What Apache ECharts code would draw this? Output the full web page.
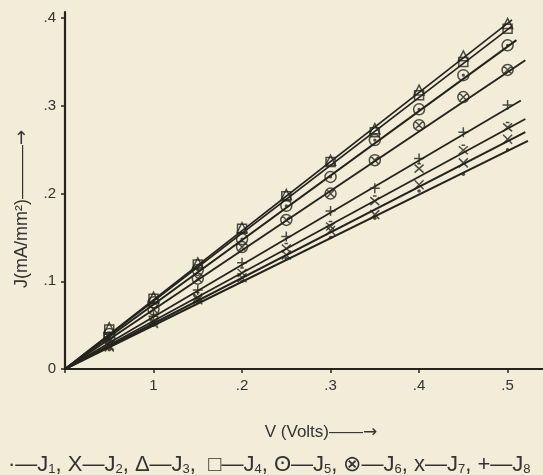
<!DOCTYPE html>
<html>
<head>
<meta charset="utf-8">
<script src="https://cdn.jsdelivr.net/npm/echarts@6/dist/echarts.min.js"></script>
<style>
html,body{margin:0;padding:0;background:#f3ecd8;}
#chart{width:543px;height:475px;}
</style>
</head>
<body>
<div id="chart"></div>
<script>
// ---- data ----
const voltages = [0.05, 0.10, 0.15, 0.20, 0.25, 0.30, 0.35, 0.40, 0.45, 0.50];
const seriesNames = ['J1', 'J2', 'J3', 'J4', 'J5', 'J6', 'J7', 'J8'];
const J1 = [0.022, 0.050, 0.076, 0.100, 0.126, 0.150, 0.172, 0.203, 0.222, 0.250];
const J2 = [0.025, 0.052, 0.079, 0.104, 0.130, 0.158, 0.176, 0.210, 0.235, 0.262];
const J3 = [0.047, 0.082, 0.121, 0.161, 0.199, 0.238, 0.274, 0.318, 0.357, 0.394];
const J4 = [0.045, 0.080, 0.119, 0.160, 0.197, 0.236, 0.270, 0.312, 0.350, 0.388];
const J5 = [0.040, 0.076, 0.113, 0.148, 0.186, 0.219, 0.261, 0.296, 0.335, 0.369];
const J6 = [0.036, 0.068, 0.103, 0.139, 0.170, 0.200, 0.238, 0.278, 0.310, 0.341];
const J7 = [0.027, 0.055, 0.082, 0.110, 0.138, 0.163, 0.192, 0.229, 0.250, 0.276];
const J8 = [0.032, 0.060, 0.090, 0.121, 0.151, 0.180, 0.206, 0.240, 0.270, 0.301];
// fitted straight lines drawn from the origin: [V end, J end]
const lineEnds = [
  [0.523, 0.260], [0.520, 0.270], [0.505, 0.398], [0.505, 0.391],
  [0.510, 0.375], [0.520, 0.352], [0.520, 0.285], [0.515, 0.306]
];
const xTickValues = [0, 0.1, 0.2, 0.3, 0.4, 0.5];
const xTickLabels = ['', '1', '.2', '.3', '.4', '.5'];
const yTickValues = [0, 0.1, 0.2, 0.3, 0.4];
const yTickLabels = ['0', '.1', '.2', '.3', '.4'];

const allValues = [J1, J2, J3, J4, J5, J6, J7, J8];
const ink = '#24241d';
const symbols = [
  'circle',
  'path://M0,0L10,10M10,0L0,10',
  'triangle',
  'rect',
  'path://M0,5A5,5 0 1,1 10,5A5,5 0 1,1 0,5ZM4.2,5A0.8,0.8 0 1,1 5.8,5A0.8,0.8 0 1,1 4.2,5Z',
  'path://M0,5A5,5 0 1,1 10,5A5,5 0 1,1 0,5ZM1.5,1.5L8.5,8.5M8.5,1.5L1.5,8.5',
  'path://M0,1L10,9M10,1L0,9M3,0L7,0',
  'path://M5,0L5,10M0,5L10,5'
];
const symbolSizes = [3.5, 9, 10, 9, 11, 11, 9, 10];
const lineWidths = [2, 2, 1.6, 1.6, 2, 2, 1.8, 1.8];

function lookup(values, labels) {
  return v => {
    const k = values.findIndex(t => Math.abs(t - v) < 1e-6);
    return k >= 0 ? labels[k] : '';
  };
}

const series = [];
seriesNames.forEach((name, i) => {
  series.push({
    name: name, type: 'line', silent: true,
    data: [[0, 0], lineEnds[i]],
    showSymbol: false, symbol: 'none',
    lineStyle: { color: ink, width: lineWidths[i] },
    z: 2
  });
  series.push({
    name: name, type: 'scatter', silent: true,
    data: voltages.map((v, k) => [v, allValues[i][k]]),
    symbol: symbols[i], symbolSize: symbolSizes[i],
    itemStyle: i === 0
      ? { color: ink }
      : { color: 'rgba(0,0,0,0)', borderColor: ink, borderWidth: 1.5 },
    z: 3
  });
});

const chart = echarts.init(document.getElementById('chart'), null, { renderer: 'canvas' });
const labelFont = { fontFamily: 'Liberation Sans', fontSize: 15, color: '#333' };

chart.setOption({
  backgroundColor: '#f3ecd8',
  animation: false,
  grid: { left: 65, right: 0, top: 12, bottom: 106 },
  xAxis: {
    type: 'value', min: 0, max: 0.54, interval: 0.1,
    splitLine: { show: false },
    axisLine: { lineStyle: { color: ink, width: 2.2 } },
    axisTick: { length: 4, customValues: xTickValues, lineStyle: { color: ink, width: 1.5 } },
    axisLabel: Object.assign({
      margin: 9, customValues: xTickValues,
      formatter: lookup(xTickValues, xTickLabels)
    }, labelFont)
  },
  yAxis: {
    type: 'value', min: 0, max: 0.407, interval: 0.1,
    splitLine: { show: false },
    axisLine: { lineStyle: { color: ink, width: 2.2 } },
    axisTick: { length: 4, customValues: yTickValues, lineStyle: { color: ink, width: 1.5 } },
    axisLabel: Object.assign({
      margin: 9, customValues: yTickValues,
      formatter: lookup(yTickValues, yTickLabels)
    }, labelFont)
  },
  title: [
    {
      text: 'V (Volts)——{a|→}',
      left: 316, top: 419, textAlign: 'center',
      textStyle: {
        fontFamily: 'Liberation Sans', fontSize: 17, fontWeight: 'normal', color: '#333',
        rich: { a: { fontFamily: 'DejaVu Sans', fontSize: 17, color: '#333' } }
      }
    },
    {
      text: '·—J{s|1}, X—J{s|2}, Δ—J{s|3},  □—J{s|4}, ʘ—J{s|5}, ⊗—J{s|6}, x—J{s|7}, +—J{s|8}',
      left: 3, top: 448,
      textStyle: {
        fontFamily: 'Liberation Sans', fontSize: 22, fontWeight: 'normal', color: '#333',
        rich: { s: { fontSize: 13, verticalAlign: 'bottom', padding: [10, 0, 0, 0], color: '#333', fontFamily: 'Liberation Sans' } }
      }
    }
  ],
  graphic: [{
    type: 'text', left: 13, top: 130, rotation: Math.PI / 2,
    style: {
      text: 'J(mA/mm²)———{a|→}', fontFamily: 'Liberation Sans', fontSize: 18, fill: '#333',
      rich: { a: { fontFamily: 'DejaVu Sans', fontSize: 18, fill: '#333' } }
    }
  }],
  series: series
});
</script>
</body>
</html>
